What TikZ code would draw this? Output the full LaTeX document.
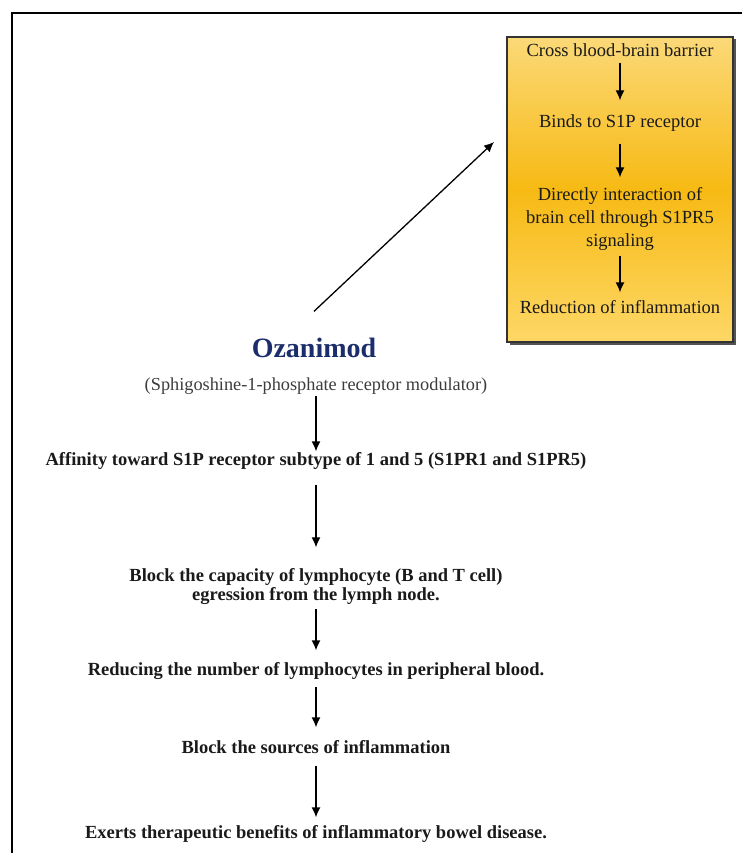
\documentclass[tikz,border=0pt]{standalone}
\usepackage{fontspec}
\setmainfont{Liberation Serif}
\usetikzlibrary{arrows.meta,shadows}

\definecolor{navy}{HTML}{1C2D6B}
\definecolor{ink}{HTML}{1A1A1A}
\definecolor{greytext}{HTML}{3C3C3C}
\definecolor{goldtop}{HTML}{FBD978}
\definecolor{goldmid}{HTML}{F7BA14}
\definecolor{goldbot}{HTML}{FDD766}

\begin{document}
\begin{tikzpicture}[%
    x=1pt, y=-1pt,
    line width=1.3pt,
    flow/.style={-{Latex[length=10pt,width=9pt]}},
    title/.style={%
      font=\bfseries\fontsize{28}{30}\selectfont,
      text=navy,
      inner sep=0pt,
      text height=19pt,
      text depth=7pt
    },
    subtitle/.style={%
      font=\fontsize{18.3}{20}\selectfont,
      text=greytext,
      inner sep=0pt,
      text height=12pt,
      text depth=4pt
    },
    stage/.style={%
      font=\bfseries\fontsize{18.5}{19}\selectfont,
      text=ink,
      inner sep=0pt,
      text height=12pt,
      text depth=4pt,
      align=center
    },
    inbox/.style={%
      font=\fontsize{18.5}{23}\selectfont,
      text=ink,
      inner sep=0pt,
      text height=12pt,
      text depth=4pt,
      align=center
    },
    panel/.style={%
      rectangle,
      draw=black!80,
      line width=1.5pt,
      minimum width=226pt,
      minimum height=305pt,
      top color=goldtop,
      bottom color=goldbot,
      middle color=goldmid,
      drop shadow={shadow xshift=2.5pt, shadow yshift=-2.5pt, fill=black!75, opacity=0.9}
    }
  ]
  \useasboundingbox (0,0) rectangle (742,853);
  % Frame:
    \draw[line width=1.6pt] (12,853) |- (742,13);
  % Nodes:
    \node[panel] (box) at (620,189.5) {};
    \node[inbox] (cross)  at (620,53)    {Cross blood-brain barrier};
    \node[inbox] (binds)  at (620,124)   {Binds to S1P receptor};
    \node[inbox, text height=, text depth=] (direct) at (620,218.5)
         {Directly interaction of\\brain cell through S1PR5\\signaling};
    \node[inbox] (reduce) at (620,309)   {Reduction of inflammation};
    \coordinate (tip) at (494,142);

    \node[title]    (ozan) at (314,351) {Ozanimod};
    \node[subtitle] (sub)  at (316,386) {(Sphigoshine-1-phosphate receptor modulator)};
    \node[stage] (aff) at (316,461) {Affinity toward S1P receptor subtype of 1 and 5 (S1PR1 and S1PR5)};
    \node[stage, text height=, text depth=] (blk) at (316,587)
         {Block the capacity of lymphocyte (B and T cell)\\egression from the lymph node.};
    \node[stage] (red) at (316,671) {Reducing the number of lymphocytes in peripheral blood.};
    \node[stage] (src) at (316,749) {Block the sources of inflammation};
    \node[stage] (ben) at (316,834) {Exerts therapeutic benefits of inflammatory bowel disease.};
  % Paths:
    \draw[flow] ([yshift=26pt]ozan.north) -- (tip);
    \draw[flow, shorten <=1pt,  shorten >=15pt] (cross) -- (binds);
    \draw[flow, shorten <=11pt, shorten >=9pt]  (binds) -- (direct);
    \draw[flow, shorten <=5pt,  shorten >=8pt]  (direct) -- (reduce);
    \draw[flow, shorten <=1pt,   shorten >=1pt]  (sub) -- (aff);
    \draw[flow, shorten <=15pt,  shorten >=21pt] (aff) -- (blk);
    \draw[flow, shorten <=3.5pt, shorten >=12pt] (blk) -- (red);
    \draw[flow, shorten <=7pt,   shorten >=13pt] (red) -- (src);
    \draw[flow, shorten <=8pt,   shorten >=8pt]  (src) -- (ben);
\end{tikzpicture}
\end{document}
